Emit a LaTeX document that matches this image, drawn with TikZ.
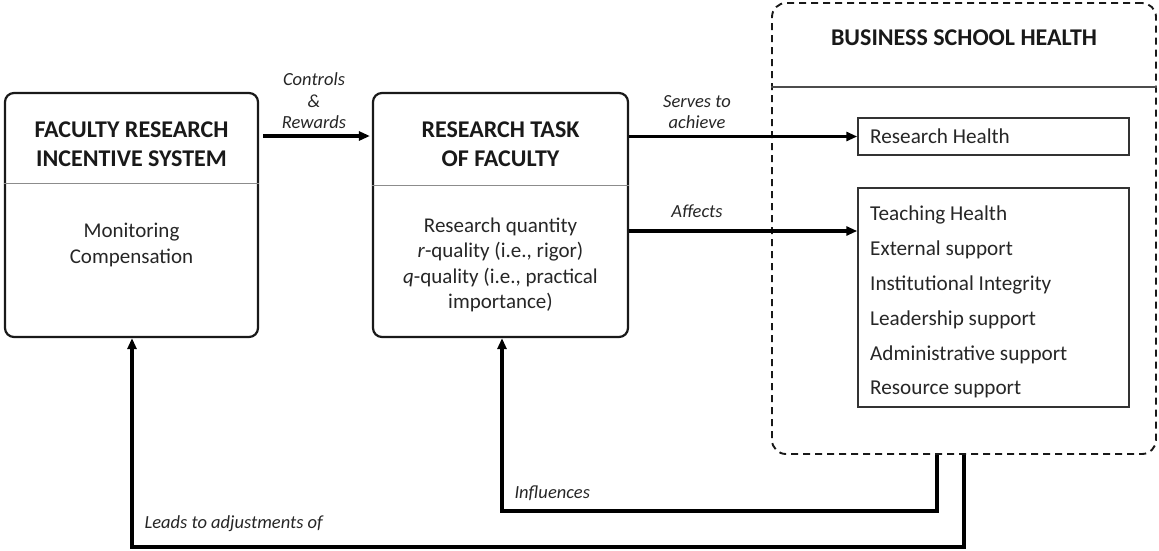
\documentclass[tikz,border=0pt]{standalone}
\usepackage{fontspec}
\setmainfont{Carlito}
\usetikzlibrary{arrows.meta}
\begin{document}
\begin{tikzpicture}[x=1pt,y=-1pt,
  outerbox/.style={draw=black!90, line width=2.2pt, rounded corners=9pt, inner sep=0pt},
  dashbox/.style={draw=black!90, line width=1.9pt, dash pattern=on 7pt off 5pt, rounded corners=14pt, inner sep=0pt},
  listbox/.style={draw=black!80, line width=1.5pt, inner sep=0pt},
  divider/.style={draw=black!45, line width=1pt},
  ttl/.style={font=\bfseries\fontsize{24}{29}\selectfont, align=center, text=black!90},
  body/.style={font=\fontsize{21}{25.3}\selectfont, align=center, text=black!85},
  item/.style={font=\fontsize{21.2}{24}\selectfont, anchor=west, text=black!85, inner sep=0pt},
  lab/.style={font=\itshape\fontsize{18.5}{21.5}\selectfont, align=center, text=black!85},
  arr/.style={line width=3.2pt, -{Triangle[length=11pt,width=9pt]}}
]
\useasboundingbox (0,0) rectangle (1159,550);

% boxes
\node[outerbox, minimum width=253pt, minimum height=244pt] (fris) at (131.5,215) {};
\node[outerbox, minimum width=255pt, minimum height=244pt] (rtf) at (500.5,215) {};
\node[dashbox, minimum width=384pt, minimum height=451pt] (bsh) at (964,228.5) {};
\node[listbox, minimum width=271pt, minimum height=37pt] (rh) at (993.5,136.5) {};
\node[listbox, minimum width=271pt, minimum height=219pt] (oh) at (993.5,297.5) {};

% dividers
\draw[divider] (fris.west |- 0,183) -- (fris.east |- 0,183);
\draw[divider] (rtf.west |- 0,185) -- (rtf.east |- 0,185);
\draw[divider, line width=1.1pt, draw=black!70] (bsh.west |- 0,87) -- (bsh.east |- 0,87);

% texts
\node[ttl] (fris-t) at (131.5,144) {FACULTY RESEARCH\\INCENTIVE SYSTEM};
\node[body] (fris-b) at (131.5,245) {Monitoring\\Compensation};
\node[ttl] (rtf-t) at (500.5,144) {RESEARCH TASK\\OF FACULTY};
\node[body] (rtf-b) at (500.5,265) {Research quantity\\\textit{r}-quality (i.e., rigor)\\\textit{q}-quality (i.e., practical\\importance)};
\node[ttl] (bsh-t) at (964,38) {BUSINESS SCHOOL HEALTH};
\node[item] (rh-t) at (870,136.5) {Research Health};
\node[item] (i1) at (870,215) {Teaching Health};
\node[item] (i2) at (870,250) {External support};
\node[item] (i3) at (870,285) {Institutional Integrity};
\node[item] (i4) at (870,320) {Leadership support};
\node[item] (i5) at (870,355) {Administrative support};
\node[item] (i6) at (870,389) {Resource support};

% coordinates for connectors
\coordinate (c1) at (0,136);
\coordinate (c2) at (0,231);
\coordinate (inf1) at (937,511);
\coordinate (inf2) at (502,511);
\coordinate (lead1) at (964,547);
\coordinate (lead2) at (132,547);

% connectors
\draw[arr, shorten <=4pt, shorten >=2pt] (fris.east |- c1) -- (rtf.west |- c1);
\draw[arr] (rtf.east |- rh) -- (rh.west);
\draw[arr] (rtf.east |- c2) -- (oh.west |- c2);
\draw[arr] (bsh.south -| inf1) -- (inf1) -- (inf2) -- (rtf.south -| inf2);
\draw[arr] (bsh.south -| lead1) -- (lead1) -- (lead2) -- (fris.south -| lead2);

% labels
\node[lab] (l1) at (314,101) {Controls\\\&\\Rewards};
\node[lab] (l2) at (697,112) {Serves to\\achieve};
\node[lab] (l3) at (697,211) {Affects};
\node[lab, anchor=west] (l4) at (511,493) {Influences};
\node[lab, anchor=west] (l5) at (141,524) {Leads to adjustments of};
\end{tikzpicture}
\end{document}
